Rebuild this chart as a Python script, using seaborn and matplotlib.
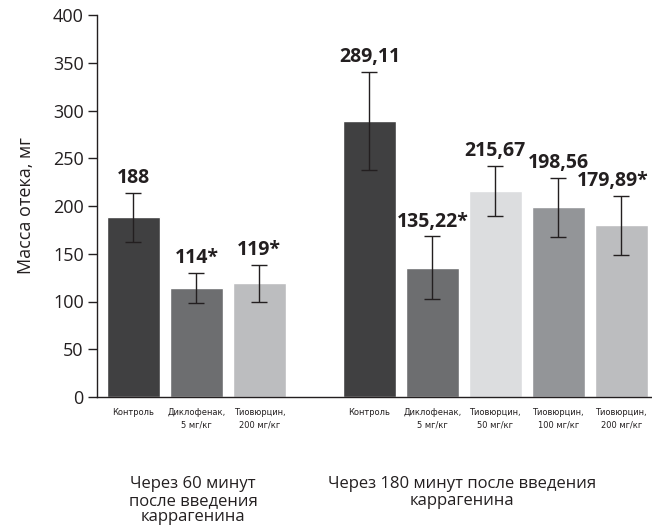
import pandas as pd
import matplotlib.pyplot as plt
import seaborn as sns

sns.set_style("white")
plt.rcParams["font.family"] = ["Open Sans", "DejaVu Sans"]

# Data
groups = ["Через 60 минут\nпосле введения\nкаррагенина",
          "Через 180 минут после введения\nкаррагенина"]
group_of_bar = [0, 0, 0, 1, 1, 1, 1, 1]
categories = ["Контроль", "Диклофенак,\n5 мг/кг", "Тиовюрцин,\n200 мг/кг",
              "Контроль", "Диклофенак,\n5 мг/кг", "Тиовюрцин,\n50 мг/кг",
              "Тиовюрцин,\n100 мг/кг", "Тиовюрцин,\n200 мг/кг"]
values = [188, 114, 119, 289.11, 135.22, 215.67, 198.56, 179.89]
errors = [26, 16, 19, 51, 33, 26, 31, 31]
value_labels = ["188", "114*", "119*", "289,11", "135,22*", "215,67", "198,56", "179,89*"]
colors = ["#404041", "#6d6e70", "#bcbdbf", "#404041", "#6d6e70", "#dcdddf", "#939598", "#bcbdbf"]

# x positions: one slot per bar, extra gap between the two time groups
pos = [i + 0.75 * g for i, g in enumerate(group_of_bar)]
df = pd.DataFrame({"pos": pos, "value": values})

fig = plt.figure(figsize=(6.52, 5.26), dpi=100)
ax = fig.add_axes([97 / 652, 129 / 526, 555 / 652, 382 / 526])

sns.barplot(data=df, x="pos", y="value", hue="pos", native_scale=True,
            palette=dict(zip(pos, colors)), width=0.84, legend=False,
            saturation=1, ax=ax)
ax.errorbar(pos, values, yerr=errors, fmt="none", ecolor="#231f20",
            elinewidth=1, capsize=5.5, capthick=1)

for i, (x, v, e, lab) in enumerate(zip(pos, values, errors, value_labels)):
    dx = -6 if i == len(values) - 1 else 0
    ax.annotate(lab, (x, v + e), xytext=(dx, 7), textcoords="offset points",
                ha="center", va="baseline", fontsize=14, fontweight="bold",
                color="#231f20")

ax.set_xlim(-0.58, 8.24)
ax.set_ylim(0, 400)
ax.set_yticks(range(0, 401, 50))
ax.set_xticks(pos)
ax.set_xticklabels(categories, family="DejaVu Sans", fontstretch="condensed",
                   fontsize=6.7, linespacing=1.45, color="#231f20")
ax.tick_params(axis="x", length=0, pad=8)
ax.tick_params(axis="y", direction="out", length=6.5, width=1, color="#231f20",
               labelsize=13, labelcolor="#231f20", pad=3, left=True)
ax.set_xlabel("")
ax.set_ylabel("Масса отека, мг", fontsize=13, color="#231f20", labelpad=13)

sns.despine(ax=ax)
for side in ["left", "bottom"]:
    ax.spines[side].set_color("#231f20")
    ax.spines[side].set_linewidth(1)

group_x = [193 / 652, 462 / 652]
for gx, gl in zip(group_x, groups):
    fig.text(gx, (526 - 476) / 526, gl, ha="center", va="top", fontsize=12,
             linespacing=1.06, color="#231f20")

fig.savefig("out.png", dpi=100)
